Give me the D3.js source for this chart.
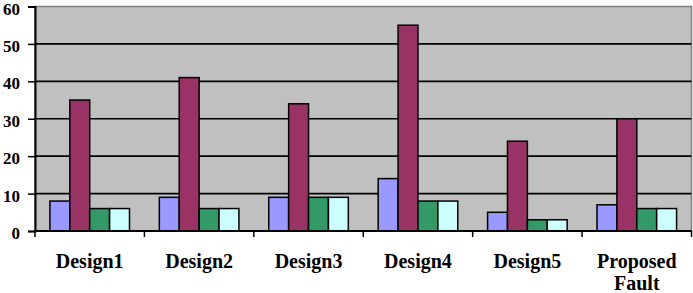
<!DOCTYPE html>
<html>
<head>
<meta charset="utf-8">
<script src="https://cdn.jsdelivr.net/npm/d3@7/dist/d3.min.js"></script>
<style>
  html, body { margin: 0; padding: 0; background: #ffffff; }
  svg { display: block; }
</style>
</head>
<body>
<svg id="chart" width="693" height="293"></svg>
<script>
const categories = ["Design1", "Design2", "Design3", "Design4", "Design5", "Proposed Fault"];
const seriesNames = ["S1", "S2", "S3", "S4"];
const s1 = [8, 9, 9, 14, 5, 7];
const s2 = [35, 41, 34, 55, 24, 30];
const s3 = [6, 6, 9, 8, 3, 6];
const s4 = [6, 6, 9, 8, 3, 6];
const yTicks = [0, 10, 20, 30, 40, 50, 60];
const colors = ["#9999FF", "#993366", "#339966", "#CCFFFF"];

(function () {
const seriesValues = [s1, s2, s3, s4];
const svg = d3.select("#chart");
const pLeft = 35, pRight = 691.5, pTop = 6.5, pBottom = 231;

const x0 = d3.scaleBand().domain(categories).range([pLeft, pRight]).padding(0);
const x1 = d3.scaleBand().domain(seriesNames).range([0, x0.bandwidth()]).paddingInner(0).paddingOuter(0.75);
const y = d3.scaleLinear().domain([0, 60]).range([pBottom, pTop]);

// plot area
svg.append("rect")
  .attr("x", pLeft).attr("y", pTop)
  .attr("width", pRight - pLeft).attr("height", pBottom - pTop)
  .attr("fill", "#C0C0C0").attr("stroke", "#808080").attr("stroke-width", 1.5);

// gridlines
svg.append("g").selectAll("line")
  .data(yTicks.filter(t => t > 0 && t < 60))
  .join("line")
  .attr("x1", pLeft).attr("x2", pRight)
  .attr("y1", d => y(d)).attr("y2", d => y(d))
  .attr("stroke", "#000").attr("stroke-width", 1.6);

// bars
const groups = svg.append("g").selectAll("g")
  .data(categories)
  .join("g")
  .attr("transform", d => `translate(${x0(d)},0)`);

groups.selectAll("rect")
  .data((d, i) => seriesNames.map((s, j) => ({ s, v: seriesValues[j][i], c: colors[j] })))
  .join("rect")
  .attr("x", d => x1(d.s))
  .attr("width", x1.bandwidth())
  .attr("y", d => y(d.v))
  .attr("height", d => y(0) - y(d.v))
  .attr("fill", d => d.c)
  .attr("stroke", "#000")
  .attr("stroke-width", 1.5);

// y axis
const yAxis = d3.axisLeft(y).tickValues(yTicks).tickSize(7).tickPadding(8).tickFormat(d3.format("d"));
const gy = svg.append("g").attr("transform", `translate(${pLeft},0)`).call(yAxis);
gy.select(".domain").attr("stroke", "#000").attr("stroke-width", 2);
gy.selectAll(".tick line").attr("stroke", "#000").attr("stroke-width", 1.5);
gy.selectAll(".tick text")
  .attr("dy", "0.45em")
  .attr("font-family", "'Liberation Serif', 'Times New Roman', serif")
  .attr("font-weight", "bold").attr("font-size", 17).attr("fill", "#000");

// x axis
const boundaries = categories.map(c => x0(c)).concat([pRight]);
const gx = svg.append("g");
gx.append("line")
  .attr("x1", pLeft).attr("x2", pRight)
  .attr("y1", pBottom).attr("y2", pBottom)
  .attr("stroke", "#000").attr("stroke-width", 2);
gx.selectAll("line.tk")
  .data(boundaries)
  .join("line").attr("class", "tk")
  .attr("x1", d => d).attr("x2", d => d)
  .attr("y1", pBottom).attr("y2", pBottom + 6)
  .attr("stroke", "#000").attr("stroke-width", 1.5);

const labels = gx.selectAll("text.lbl")
  .data(categories)
  .join("text").attr("class", "lbl")
  .attr("x", d => x0(d) + x0.bandwidth() / 2)
  .attr("y", 267.5)
  .attr("text-anchor", "middle")
  .attr("font-family", "'Liberation Serif', 'Times New Roman', serif")
  .attr("font-weight", "bold").attr("font-size", 20).attr("fill", "#000");

labels.each(function(d) {
  const words = d === "Proposed Fault" ? ["Proposed", "Fault"] : [d];
  const t = d3.select(this);
  words.forEach((w, i) => {
    t.append("tspan")
      .attr("x", x0(d) + x0.bandwidth() / 2)
      .attr("dy", i === 0 ? 0 : 22.5)
      .text(w);
  });
});
})();
</script>
</body>
</html>
